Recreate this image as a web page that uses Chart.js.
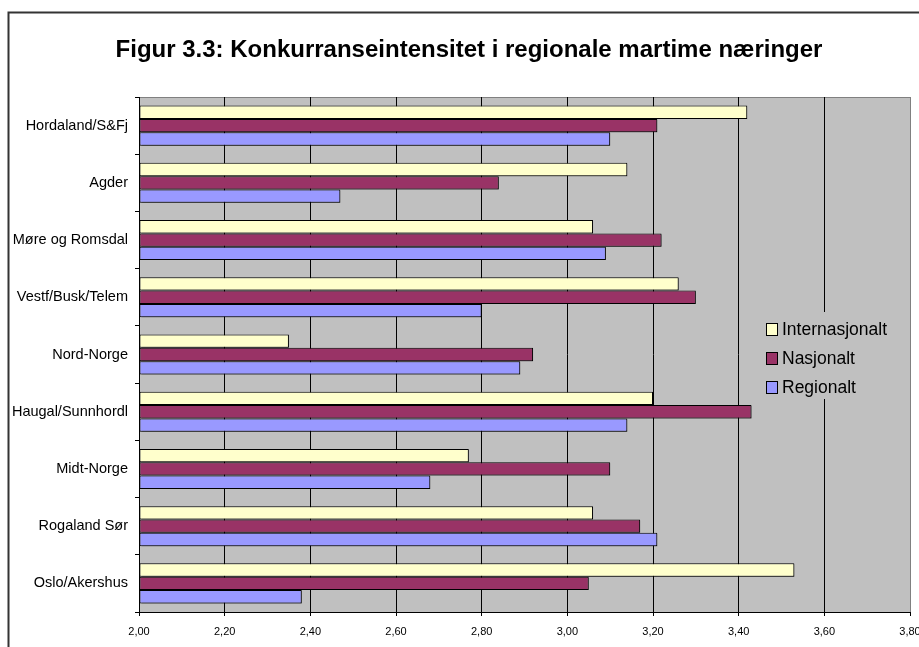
<!DOCTYPE html>
<html>
<head>
<meta charset="utf-8">
<script src="https://cdn.jsdelivr.net/npm/chart.js@4.4.0/dist/chart.umd.min.js"></script>
<style>
  body { margin: 0; background: #fff; }
  #wrap { width: 919px; height: 647px; }
</style>
</head>
<body>
<div id="wrap"><canvas id="chart" width="919" height="647"></canvas></div>
<script>
const titleText = 'Figur 3.3: Konkurranseintensitet i regionale martime næringer';

const categories = [
  'Hordaland/S&Fj', 'Agder', 'Møre og Romsdal', 'Vestf/Busk/Telem', 'Nord-Norge',
  'Haugal/Sunnhordl', 'Midt-Norge', 'Rogaland Sør', 'Oslo/Akershus'
];
const seriesNames = ['Internasjonalt', 'Nasjonalt', 'Regionalt'];
const internasjonalt = [3.42, 3.14, 3.06, 3.26, 2.35, 3.20, 2.77, 3.06, 3.53];
const nasjonalt      = [3.21, 2.84, 3.22, 3.30, 2.92, 3.43, 3.10, 3.17, 3.05];
const regionalt      = [3.10, 2.47, 3.09, 2.80, 2.89, 3.14, 2.68, 3.21, 2.38];
const axisMin = 2.0, axisMax = 3.8, axisStep = 0.2;

const colors = ['#FFFFCC', '#993366', '#9999FF'];
const font = 'Liberation Sans, Arial, sans-serif';

// frame, plot background, title
const backdrop = {
  id: 'backdrop',
  beforeDraw(chart) {
    const {ctx, chartArea: a} = chart;
    ctx.save();
    ctx.strokeStyle = '#333';
    ctx.lineWidth = 2;
    ctx.strokeRect(8.5, 12.5, 940, 660);
    ctx.fillStyle = '#C0C0C0';
    ctx.fillRect(a.left, a.top, a.right - a.left, a.bottom - a.top);
    ctx.strokeStyle = '#808080';
    ctx.lineWidth = 1;
    ctx.strokeRect(a.left + 0.5, a.top + 0.5, a.right - a.left, a.bottom - a.top);
    ctx.fillStyle = '#000';
    ctx.font = 'bold 24px ' + font;
    ctx.textAlign = 'center';
    ctx.textBaseline = 'middle';
    ctx.fillText(titleText, 469, 50);
    ctx.restore();
  }
};

// soft drop shadow under the bars
const barShadow = {
  id: 'barShadow',
  beforeDatasetsDraw(chart) {
    const ctx = chart.ctx;
    ctx.save();
    ctx.shadowColor = 'rgba(0,0,0,0.35)';
    ctx.shadowOffsetX = 2;
    ctx.shadowOffsetY = 1;
    ctx.shadowBlur = 0;
  },
  afterDatasetsDraw(chart) {
    chart.ctx.restore();
  }
};

// legend sitting inside the plot area
const boxLegend = {
  id: 'boxLegend',
  afterDraw(chart) {
    const ctx = chart.ctx;
    ctx.save();
    ctx.fillStyle = '#C0C0C0';
    ctx.fillRect(760, 312, 134, 87);
    ctx.font = '17.5px ' + font;
    ctx.textBaseline = 'middle';
    chart.data.datasets.forEach((ds, i) => {
      const y = 329 + i * 29;
      ctx.fillStyle = ds.backgroundColor;
      ctx.fillRect(766, y - 6, 11, 12);
      ctx.strokeStyle = '#000';
      ctx.lineWidth = 1;
      ctx.strokeRect(766.5, y - 5.5, 11, 12);
      ctx.fillStyle = '#000';
      ctx.fillText(ds.label, 782, y + 1);
    });
    ctx.restore();
  }
};

new Chart(document.getElementById('chart'), {
  type: 'bar',
  data: {
    labels: categories,
    datasets: [
      { label: seriesNames[0], data: internasjonalt, backgroundColor: colors[0] },
      { label: seriesNames[1], data: nasjonalt, backgroundColor: colors[1] },
      { label: seriesNames[2], data: regionalt, backgroundColor: colors[2] }
    ]
  },
  options: {
    indexAxis: 'y',
    responsive: false,
    animation: false,
    base: axisMin,
    layout: { padding: { top: 97, left: 0, right: 9, bottom: 0 } },
    datasets: {
      bar: {
        borderColor: '#000',
        borderWidth: 1,
        borderSkipped: false,
        categoryPercentage: 0.7,
        barPercentage: 1.0
      }
    },
    plugins: {
      legend: { display: false },
      title: { display: false },
      tooltip: { enabled: false }
    },
    scales: {
      x: {
        min: axisMin,
        max: axisMax,
        ticks: {
          stepSize: axisStep,
          color: '#000',
          padding: 9,
          maxRotation: 0,
          font: { family: font, size: 11 },
          callback: v => Number(v).toFixed(2).replace('.', ',')
        },
        grid: {
          color: c => (Math.abs(c.tick.value - axisMax) < 1e-6 ? '#808080' : '#000'),
          tickColor: '#000',
          lineWidth: 1,
          tickLength: 4
        },
        border: { display: true, color: '#000' },
        afterFit(s) { s.height = 35; s.paddingLeft = 0; s.paddingRight = 0; }
      },
      y: {
        ticks: {
          color: '#000',
          padding: 7,
          font: { family: font, size: 14.5 }
        },
        grid: {
          offset: true,
          drawOnChartArea: false,
          drawTicks: true,
          tickLength: 4,
          color: '#000'
        },
        border: { display: true, color: '#000' },
        afterFit(s) { s.width = 139; s.paddingTop = 0; s.paddingBottom = 0; }
      }
    }
  },
  plugins: [backdrop, barShadow, boxLegend]
});
</script>
</body>
</html>
